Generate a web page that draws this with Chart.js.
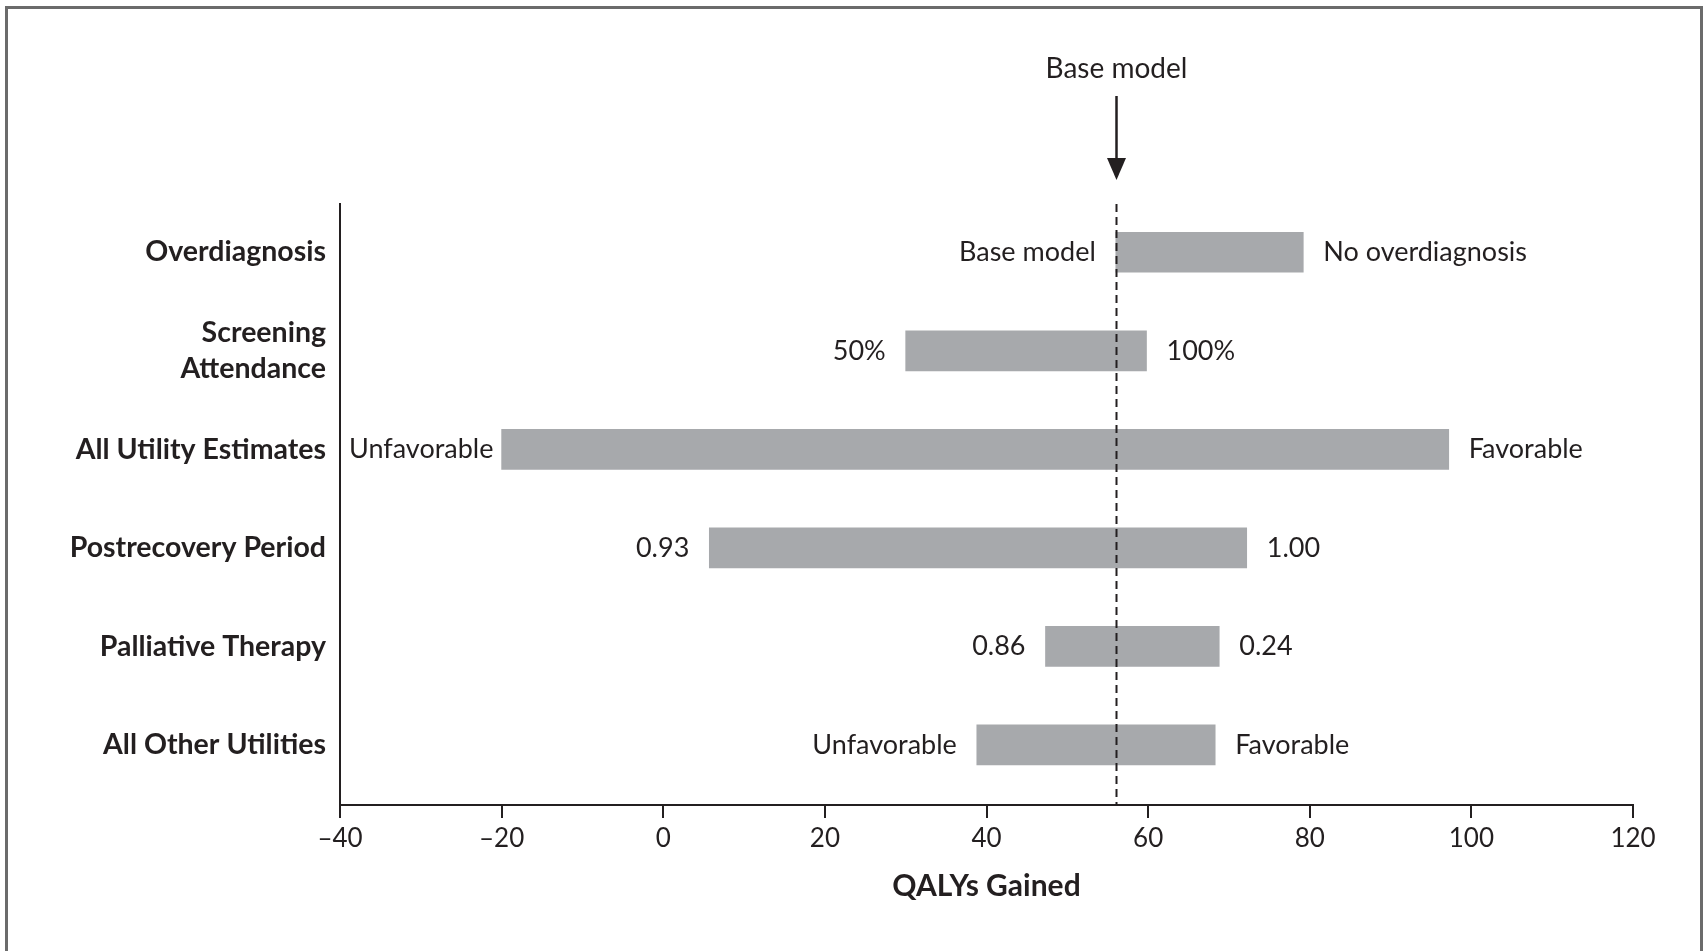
<!DOCTYPE html>
<html>
<head>
<meta charset="utf-8">
<script src="https://cdn.jsdelivr.net/npm/chart.js@4.4.1/dist/chart.umd.min.js"></script>
<style>
  html, body { margin: 0; padding: 0; background: #ffffff; }
  #wrap { position: relative; width: 1707px; height: 951px; }
  canvas { display: block; }
</style>
</head>
<body>
<div id="wrap"><canvas id="c" width="1707" height="951"></canvas></div>
<script>
// ---------------- data ----------------
const categories = [
  'Overdiagnosis',
  ['Screening', 'Attendance'],
  'All Utility Estimates',
  'Postrecovery Period',
  'Palliative Therapy',
  'All Other Utilities'
];
const lowValues  = [56, 30, -20, 5.7, 47.3, 38.8];
const highValues = [79.2, 59.8, 97.2, 72.2, 68.8, 68.3];
const leftLabels  = ['Base model', '50%', 'Unfavorable', '0.93', '0.86', 'Unfavorable'];
const rightLabels = ['No overdiagnosis', '100%', 'Favorable', '1.00', '0.24', 'Favorable'];
const baseModelValue = 56;
const baseModelLabel = 'Base model';
const xTickValues = [-40, -20, 0, 20, 40, 60, 80, 100, 120];
const xTickLabels = ['\u201340', '\u201320', '0', '20', '40', '60', '80', '100', '120'];
const xTitle = 'QALYs Gained';

// ---------------- styles ----------------
const INK = '#231f20';
const BAR = '#a7a9ac';
const FONT = 'Lato';

const annotations = {
  id: 'annotations',
  beforeDraw(chart) {
    const ctx = chart.ctx;
    ctx.save();
    // outer frame (left, top, right)
    ctx.strokeStyle = '#6b6b6b';
    ctx.lineWidth = 3;
    ctx.beginPath();
    ctx.moveTo(6.5, 951);
    ctx.lineTo(6.5, 7.5);
    ctx.lineTo(1701.5, 7.5);
    ctx.lineTo(1701.5, 951);
    ctx.stroke();
    ctx.restore();
  },
  afterDatasetsDraw(chart) {
    const ctx = chart.ctx;
    const area = chart.chartArea;
    const xs = chart.scales.x;
    const bx = Math.round(xs.getPixelForValue(baseModelValue)) + 0.5;
    ctx.save();
    // dashed base-model line
    ctx.strokeStyle = INK;
    ctx.lineWidth = 2;
    ctx.setLineDash([8, 5]);
    ctx.beginPath();
    ctx.moveTo(bx, area.top);
    ctx.lineTo(bx, area.bottom);
    ctx.stroke();
    ctx.setLineDash([]);
    // arrow
    ctx.lineWidth = 2.5;
    ctx.beginPath();
    ctx.moveTo(bx, area.top - 108);
    ctx.lineTo(bx, area.top - 40);
    ctx.stroke();
    ctx.fillStyle = INK;
    ctx.beginPath();
    ctx.moveTo(bx - 9.5, area.top - 46);
    ctx.lineTo(bx + 9.5, area.top - 46);
    ctx.lineTo(bx, area.top - 24);
    ctx.closePath();
    ctx.fill();
    // top label
    ctx.font = '28px ' + FONT;
    ctx.textAlign = 'center';
    ctx.textBaseline = 'middle';
    ctx.fillText(baseModelLabel, bx, area.top - 135);

    // bar end labels
    ctx.font = '27px ' + FONT;
    const meta = chart.getDatasetMeta(0);
    const gap = 20;
    meta.data.forEach((bar, i) => {
      const p = bar.getProps(['x', 'base', 'y'], true);
      const l = Math.min(p.x, p.base), r = Math.max(p.x, p.base);
      ctx.textBaseline = 'middle';
      const lw = ctx.measureText(leftLabels[i]).width;
      let lx = l - gap;
      lx = Math.max(lx, area.left + 9 + lw);
      ctx.textAlign = 'right';
      ctx.fillText(leftLabels[i], lx, p.y);
      ctx.textAlign = 'left';
      ctx.fillText(rightLabels[i], r + gap, p.y);
    });
    ctx.restore();
  }
};

function build() {
  Chart.defaults.font.family = FONT;
  Chart.defaults.color = INK;
  new Chart(document.getElementById('c'), {
    type: 'bar',
    data: {
      datasets: [{
        data: categories.map((c, i) => ({ y: i, x: [lowValues[i], highValues[i]] })),
        backgroundColor: BAR,
        borderWidth: 0,
        borderSkipped: false,
        barThickness: 40
      }]
    },
    options: {
      indexAxis: 'y',
      responsive: false,
      animation: false,
      events: [],
      layout: { padding: { top: 204, right: 74, left: 0, bottom: 0 } },
      plugins: { legend: { display: false }, tooltip: { enabled: false } },
      scales: {
        x: {
          type: 'linear',
          min: -40, max: 120,
          afterBuildTicks: s => { s.ticks = xTickValues.map(v => ({ value: v })); },
          afterFit: s => { s.height = 146; },
          ticks: {
            autoSkip: false,
            maxRotation: 0,
            padding: 5,
            color: INK,
            font: { size: 26 },
            callback: (v) => xTickLabels[xTickValues.indexOf(v)]
          },
          grid: { drawOnChartArea: false, drawTicks: true, tickLength: 13, color: INK, lineWidth: 2 },
          border: { display: true, color: INK, width: 2 },
          title: {
            display: true,
            text: xTitle,
            color: INK,
            font: { size: 30, weight: 'bold' },
            padding: { top: 0, bottom: 47 }
          }
        },
        y: {
          type: 'linear',
          reverse: true,
          offset: false,
          bounds: 'data',
          grace: 0,
          min: -0.49, max: 5.61,
          afterBuildTicks: s => { s.ticks = categories.map((c, i) => ({ value: i })); },
          afterFit: s => { s.width = 340; },
          ticks: {
            autoSkip: false,
            padding: 14,
            color: INK,
            font: { size: 28.5, weight: 'bold', lineHeight: 1.23 },
            callback: (v) => categories[v]
          },
          grid: { display: false, drawTicks: false },
          border: { display: true, color: INK, width: 2 }
        }
      }
    },
    plugins: [annotations]
  });
}

if (document.fonts && document.fonts.load) {
  Promise.all([
    document.fonts.load('27px Lato'),
    document.fonts.load('bold 28px Lato')
  ]).then(build, build);
} else {
  build();
}
</script>
</body>
</html>
